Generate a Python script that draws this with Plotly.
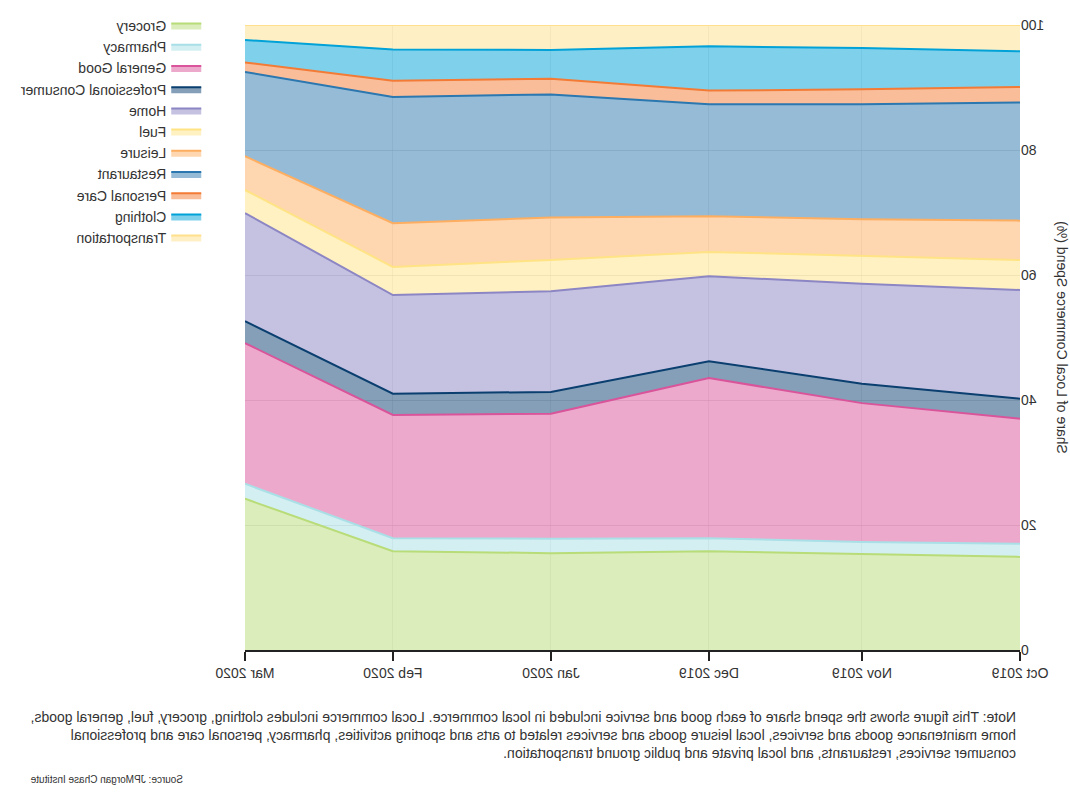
import plotly.graph_objects as go

months = ["2019-10-01", "2019-11-01", "2019-12-01", "2020-01-01", "2020-02-01", "2020-03-01"]

categories = ["Grocery", "Pharmacy", "General Good", "Professional Consumer", "Home", "Fuel",
              "Leisure", "Restaurant", "Personal Care", "Clothing", "Transportation"]

grocery = [14.9, 15.4, 15.8, 15.5, 15.8, 24.2]
pharmacy = [2.1, 1.9, 2.1, 2.3, 2.1, 2.4]
general_good = [20.0, 22.2, 25.6, 20.0, 19.7, 22.5]
professional_consumer = [3.2, 3.1, 2.7, 3.5, 3.4, 3.5]
home = [17.4, 16.0, 13.6, 16.1, 15.8, 17.3]
fuel = [4.8, 4.4, 3.9, 5.0, 4.5, 3.7]
leisure = [6.3, 5.9, 5.7, 6.8, 7.0, 5.4]
restaurant = [18.9, 18.4, 17.9, 19.7, 20.2, 13.5]
personal_care = [2.5, 2.4, 2.2, 2.5, 2.6, 1.5]
clothing = [5.7, 6.6, 7.1, 4.6, 5.0, 3.6]
transportation = [4.2, 3.7, 3.4, 4.0, 3.9, 2.4]

series = [grocery, pharmacy, general_good, professional_consumer, home, fuel,
          leisure, restaurant, personal_care, clothing, transportation]

colors = ["#b8dc78", "#a9dfe6", "#d9549a", "#0a3f70", "#8c86c4", "#ffe385",
          "#fdae61", "#2b77b0", "#f37b35", "#00a2d8", "#ffe08c"]

fig = go.Figure()
for name, vals, col in zip(categories, series, colors):
    fig.add_trace(go.Scatter(
        x=months, y=vals, name=name, mode="lines",
        stackgroup="one", line=dict(color=col, width=2),
    ))

font_family = "Arial, Liberation Sans, sans-serif"

fig.update_layout(
    width=1070, height=800,
    margin=dict(l=50, r=245, t=25, b=150, autoexpand=False),
    paper_bgcolor="white", plot_bgcolor="white",
    font=dict(family=font_family, size=14, color="#333"),
    showlegend=True,
    legend=dict(x=1.05, xanchor="left", y=1.024, yanchor="top",
                traceorder="normal", font=dict(size=14, color="#333"),
                bgcolor="rgba(0,0,0,0)"),
    xaxis=dict(type="date", tickformat="%b %Y", dtick="M1",
               tick0="2019-10-01", automargin=False,
               range=["2019-10-01", "2020-03-01"],
               showline=True, linecolor="#222", linewidth=1.5,
               ticks="outside", ticklen=9, tickcolor="#222", tickwidth=1.5,
               showgrid=True, gridcolor="rgba(200,200,200,0.35)",
               tickfont=dict(size=14, color="#333")),
    yaxis=dict(range=[0, 100], dtick=20, showgrid=True, automargin=False,
               gridcolor="rgba(200,200,200,0.5)", zeroline=False,
               showline=False,
               title=dict(text="Share of Local Commerce Spend (%)", font=dict(size=14, color="#333")),
               tickfont=dict(size=14, color="#333")),
    hovermode=False,
)

fig.add_annotation(
    xref="paper", yref="paper", x=0.002, y=-0.091, xanchor="left", yanchor="top",
    align="left", showarrow=False,
    text=("Note: This figure shows the spend share of each good and service included in local commerce. Local commerce includes clothing, grocery, fuel, general goods,<br>"
          "home maintenance goods and services, local leisure goods and services related to arts and sporting activities, pharmacy, personal care and professional<br>"
          "consumer services, restaurants, and local private and public ground transportation."),
    font=dict(size=14, color="#333"),
)
fig.add_annotation(
    xref="paper", yref="paper", x=1.28, y=-0.207, xanchor="right", yanchor="middle",
    showarrow=False, text="Source: JPMorgan Chase Institute",
    font=dict(size=10, color="#333"),
)

post = ("document.body.style.margin='0';"
        "var d=document.getElementById('{plot_id}');"
        "d.style.transform='scaleX(-1)';d.style.transformOrigin='535px 400px';")

fig.write_html("out.html", post_script=post, config={"displayModeBar": False})
